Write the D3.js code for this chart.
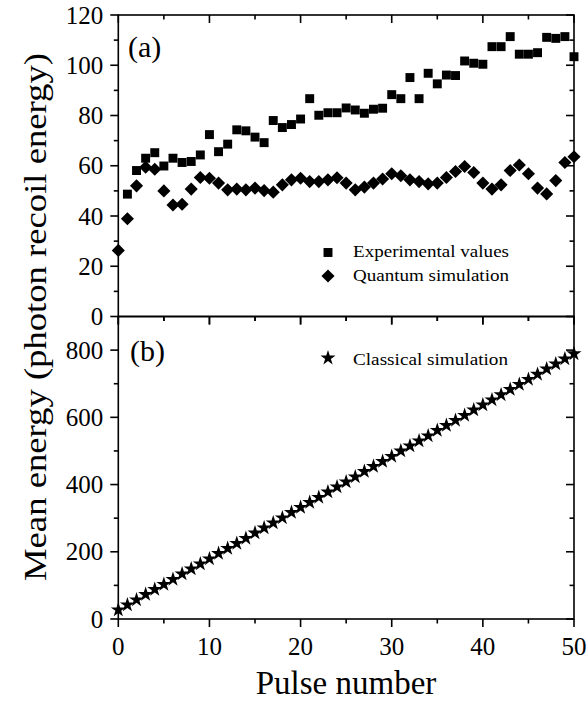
<!DOCTYPE html>
<html><head><meta charset="utf-8">
<script src="https://cdn.jsdelivr.net/npm/d3@7"></script>
</head><body style="margin:0">
<svg id="c" width="588" height="704"></svg>
<script>
const pulses = d3.range(0, 51);
const expPulses = d3.range(1, 51);
const experimental = [48.7,58.1,63.0,65.2,59.9,63.0,61.3,61.7,64.3,72.4,65.6,68.6,74.3,73.9,71.4,69.2,78.0,75.2,76.4,78.6,86.7,80.1,81.1,81.1,83.0,82.2,80.9,82.5,82.9,88.3,86.7,95.1,86.7,96.8,92.6,96.1,95.9,101.7,100.8,100.4,107.4,107.4,111.4,104.4,104.4,105.0,111.1,110.7,111.4,103.4];
const quantum = [26.3,38.9,52.0,59.4,58.6,50.0,44.4,44.7,50.7,55.3,55.0,53.1,50.4,50.7,50.4,51.1,50.1,49.5,52.4,54.4,55.0,53.7,53.7,54.4,55.2,53.1,50.4,51.5,53.1,54.7,56.8,56.0,54.4,53.7,52.8,53.1,55.3,57.7,59.7,57.3,53.1,50.7,52.4,58.1,60.3,56.8,51.1,48.8,54.1,61.3,63.6];
const classical = [27,42,57,73,88,103,118,134,149,164,179,195,210,225,240,256,271,286,301,317,332,347,362,378,393,408,423,439,454,469,484,500,515,530,545,561,576,591,606,622,637,652,667,683,698,713,728,744,759,774,789];
const xTicks = [0,10,20,30,40,50];
const xMinor = [5,15,25,35,45];
const yTopTicks = [0,20,40,60,80,100,120];
const yTopMinor = [10,30,50,70,90,110];
const yBotTicks = [0,200,400,600,800];
const yBotMinor = [100,300,500,700];
const legendTop = ["Experimental values","Quantum simulation"];
const legendBot = ["Classical simulation"];

const svg = d3.select("#c");
const x = d3.scaleLinear().domain([0,50]).range([118.3,574]);
const yT = d3.scaleLinear().domain([0,120]).range([316.5,15]);
const yB = d3.scaleLinear().domain([0,900]).range([619,316.5]);
const L = x.range()[0], R = x.range()[1];
const MAJ = 8, MIN = 4.5, SW = 1.6;

function txt(sel){ return sel.style("font-family",'"Liberation Serif"').attr("font-family","Liberation Serif").attr("fill","#000"); }

function frame(y, ticks, minor, labels, bottomLabels){
  const g = svg.append("g").attr("stroke","#000").attr("stroke-width",SW).attr("fill","none");
  g.append("rect").attr("x",L).attr("y",y.range()[1]).attr("width",R-L).attr("height",y.range()[0]-y.range()[1]);
  ticks.forEach(v=>g.append("line").attr("x1",L-MAJ).attr("x2",L).attr("y1",y(v)).attr("y2",y(v)));
  minor.forEach(v=>g.append("line").attr("x1",L-MIN).attr("x2",L).attr("y1",y(v)).attr("y2",y(v)));
  ticks.forEach(v=>g.append("line").attr("x1",R-MAJ).attr("x2",R).attr("y1",y(v)).attr("y2",y(v)));
  minor.forEach(v=>g.append("line").attr("x1",R-MIN).attr("x2",R).attr("y1",y(v)).attr("y2",y(v)));
  const yb = y.range()[0], yt = y.range()[1];
  xTicks.forEach(v=>{g.append("line").attr("x1",x(v)).attr("x2",x(v)).attr("y1",yb).attr("y2",yb+MAJ);
    g.append("line").attr("x1",x(v)).attr("x2",x(v)).attr("y1",yt).attr("y2",yt+MAJ);});
  xMinor.forEach(v=>{g.append("line").attr("x1",x(v)).attr("x2",x(v)).attr("y1",yb).attr("y2",yb+MIN);
    g.append("line").attr("x1",x(v)).attr("x2",x(v)).attr("y1",yt).attr("y2",yt+MIN);});
  txt(svg.append("g").selectAll("text").data(labels).join("text"))
    .attr("x",L-15).attr("y",d=>y(d)).attr("dy","0.34em").attr("text-anchor","end")
    .attr("font-size",25).text(d=>d);
  if(bottomLabels){
    txt(svg.append("g").selectAll("text").data(xTicks).join("text"))
      .attr("x",d=>x(d)).attr("y",yb+36).attr("text-anchor","middle")
      .attr("font-size",25).text(d=>d);
  }
}
frame(yB, yBotTicks, yBotMinor, yBotTicks, true);
frame(yT, yTopTicks, yTopMinor, yTopTicks, false);

const sq = d3.symbol().type(d3.symbolSquare).size(80);
const dm = d3.symbol().type(d3.symbolSquare).size(86);
const st = d3.symbol().type(d3.symbolStar).size(70);

svg.append("g").selectAll("path").data(expPulses).join("path")
  .attr("d",sq).attr("transform",(d,i)=>`translate(${x(d)},${yT(experimental[i])})`);
svg.append("g").selectAll("path").data(pulses).join("path")
  .attr("d",dm).attr("transform",(d,i)=>`translate(${x(d)},${yT(quantum[i])}) rotate(45)`);
svg.append("g").selectAll("path").data(pulses).join("path")
  .attr("d",st).attr("transform",(d,i)=>`translate(${x(d)},${yB(classical[i])})`);

svg.append("path").attr("d",sq).attr("transform","translate(328,252.5)");
svg.append("path").attr("d",dm).attr("transform","translate(328,276) rotate(45)");
svg.append("path").attr("d",st).attr("transform","translate(328,358)");
txt(svg.append("text")).attr("x",353).attr("y",257).attr("font-size",17.5).attr("textLength",156).attr("lengthAdjust","spacingAndGlyphs").text(legendTop[0]);
txt(svg.append("text")).attr("x",353).attr("y",281).attr("font-size",17.5).attr("textLength",156).attr("lengthAdjust","spacingAndGlyphs").text(legendTop[1]);
txt(svg.append("text")).attr("x",353).attr("y",365).attr("font-size",17.5).attr("textLength",155).attr("lengthAdjust","spacingAndGlyphs").text(legendBot[0]);

txt(svg.append("text")).attr("x",128).attr("y",57).attr("font-size",30).text("(a)");
txt(svg.append("text")).attr("x",130).attr("y",361).attr("font-size",30).text("(b)");

txt(svg.append("text")).attr("x",346).attr("y",694).attr("text-anchor","middle").attr("font-size",33).text("Pulse number");
txt(svg.append("text")).attr("transform","translate(46,317) rotate(-90)").attr("text-anchor","middle")
  .attr("font-size",31).attr("textLength",528).attr("lengthAdjust","spacingAndGlyphs")
  .text("Mean energy (photon recoil energy)");
</script>
</body></html>
